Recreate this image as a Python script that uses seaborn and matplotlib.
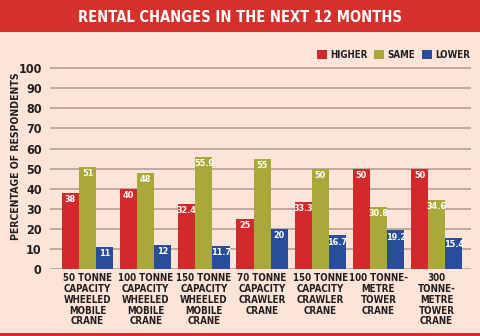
import matplotlib
matplotlib.use("Agg")
import matplotlib.pyplot as plt
import seaborn as sns
import pandas as pd
from matplotlib.patches import Rectangle

categories = [
    "50 TONNE\nCAPACITY\nWHEELED\nMOBILE\nCRANE",
    "100 TONNE\nCAPACITY\nWHEELED\nMOBILE\nCRANE",
    "150 TONNE\nCAPACITY\nWHEELED\nMOBILE\nCRANE",
    "70 TONNE\nCAPACITY\nCRAWLER\nCRANE",
    "150 TONNE\nCAPACITY\nCRAWLER\nCRANE",
    "100 TONNE-\nMETRE\nTOWER\nCRANE",
    "300\nTONNE-\nMETRE\nTOWER\nCRANE",
]
higher = [38, 40, 32.4, 25, 33.3, 50, 50]
same = [51, 48, 55.9, 55, 50, 30.8, 34.6]
lower = [11, 12, 11.7, 20, 16.7, 19.2, 15.4]
series = ["HIGHER", "SAME", "LOWER"]
yticks = [0, 10, 20, 30, 40, 50, 60, 70, 80, 90, 100]

BG = "#fce4d8"
RED = "#d2292c"
OLIVE = "#a8a93a"
BLUE = "#2a4c9c"
HEAD = "#d4312c"
DARK = "#231f20"

sns.set_theme(style="white")
plt.rcParams["font.family"] = ["DejaVu Sans"]

rows = []
for i, c in enumerate(categories):
    for s, vals in zip(series, [higher, same, lower]):
        rows.append({"cat": c, "series": s, "value": vals[i]})
df = pd.DataFrame(rows)

fig = plt.figure(figsize=(4.8, 3.36), dpi=100)
fig.patch.set_facecolor(BG)
# header band
fig.add_artist(Rectangle((0, 1 - 32 / 336), 1, 32 / 336, transform=fig.transFigure,
                         facecolor=HEAD, edgecolor="none", zorder=0))
fig.add_artist(Rectangle((0, 0), 1, 3 / 336, transform=fig.transFigure,
                         facecolor=HEAD, edgecolor="none", zorder=0))
fig.text(0.5, 1 - 17 / 336, "RENTAL CHANGES IN THE NEXT 12 MONTHS", ha="center", va="center",
         color="white", fontsize=10.5, fontweight="bold", fontstretch="condensed")

ax = fig.add_axes([50 / 480, (336 - 269) / 336, (471 - 50) / 480, 202 / 336])
ax.set_facecolor(BG)
sns.barplot(data=df, x="cat", y="value", hue="series", hue_order=series,
            palette=[RED, OLIVE, BLUE], width=0.88, saturation=1, ax=ax,
            legend=False, edgecolor="none", linewidth=0)

for cont in ax.containers:
    ax.bar_label(cont, fmt="%g", padding=-8, color="white", fontsize=6.5,
                 fontweight="bold", fontstretch="condensed")

ax.set_ylim(0, 100.6)
ax.set_xlim(-0.645, 6.59)
ax.set_yticks(yticks)
ax.set_yticklabels([str(t) for t in yticks], fontsize=9, fontweight="bold",
                   color=DARK, fontstretch="condensed")
ax.yaxis.grid(True, color="#b7a69c", linewidth=1.3)
ax.set_axisbelow(True)
for sp in ax.spines.values():
    sp.set_visible(False)
ax.tick_params(axis="y", length=0, pad=6)
ax.tick_params(axis="x", length=0, pad=3)
ax.set_xticks(range(len(categories)))
ax.set_xticklabels(categories, fontsize=7, fontweight="bold", color=DARK,
                   fontstretch="condensed", linespacing=1.1)
ax.set_xlabel("")
ax.set_ylabel("")
fig.text(16 / 480, 1 - 156 / 336, "PERCENTAGE OF RESPONDENTS", rotation=90, ha="center",
         va="center", fontsize=7.5, fontweight="bold", color=DARK, fontstretch="condensed")

# legend
handles = [Rectangle((0, 0), 1, 1, facecolor=c, edgecolor="none") for c in [RED, OLIVE, BLUE]]
leg = fig.legend(handles, series, loc="center right", bbox_to_anchor=(479 / 480, 1 - 55 / 336),
                 ncol=3, frameon=False, handlelength=1.0, handleheight=1.0, handletextpad=0.35,
                 columnspacing=0.7, prop={"size": 7, "weight": "bold", "stretch": "condensed"})
for t in leg.get_texts():
    t.set_color(DARK)

fig.savefig("out.png", dpi=100, facecolor=BG)
